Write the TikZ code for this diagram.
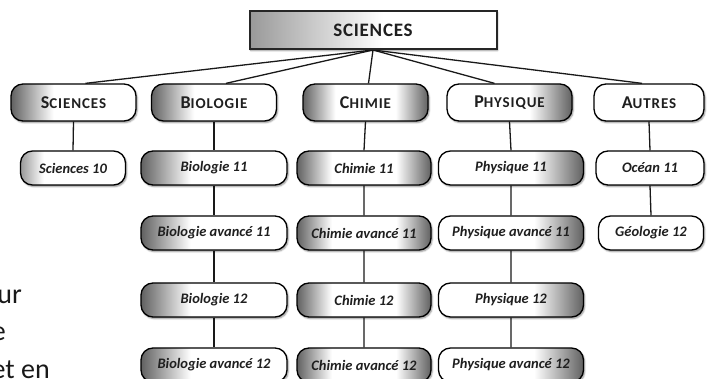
\documentclass[tikz,border=0pt]{standalone}
\usepackage{fontspec}
\setmainfont{Carlito}
\usetikzlibrary{shadows.blur,backgrounds}
\colorlet{shdark}{black!62}
\colorlet{shmid}{black!40}
\colorlet{txt}{black!88}
\pgfdeclarehorizontalshading{lshade}{100bp}{color(0bp)=(shdark); color(25bp)=(shdark); color(42bp)=(white); color(100bp)=(white)}
\pgfdeclarehorizontalshading{rshade}{100bp}{color(0bp)=(white); color(58bp)=(white); color(75bp)=(shdark); color(100bp)=(shdark)}
\pgfdeclarehorizontalshading{bshade}{100bp}{color(0bp)=(shdark); color(25bp)=(shdark); color(38bp)=(white); color(62bp)=(white); color(75bp)=(shdark); color(100bp)=(shdark)}
\pgfdeclarehorizontalshading{sshade}{100bp}{color(0bp)=(shmid); color(25bp)=(shmid); color(36bp)=(white); color(100bp)=(white)}
\pgfdeclarehorizontalshading{tshade}{100bp}{color(0bp)=(shmid); color(25bp)=(shmid); color(52bp)=(white); color(100bp)=(white)}
\newcommand{\mysc}[2]{{\fontsize{18}{18}\selectfont #1}{\fontsize{15}{15}\selectfont\addfontfeature{LetterSpace=6}#2}}
\tikzset{
  box/.style={rounded corners=12pt, draw=black, line width=1.3pt, inner sep=0pt, text=txt,
    blur shadow={shadow xshift=1.2pt, shadow yshift=-1.6pt, shadow blur radius=1.6pt, shadow opacity=45}},
  head/.style={box, minimum width=125pt, minimum height=37pt},
  course/.style={box, minimum height=34pt, font=\fontsize{14.5}{15}\selectfont\bfseries\itshape},
  conn/.style={draw=black!90, line width=1.3pt},
  frag/.style={inner sep=0pt, anchor=base east, font=\fontsize{28}{30}\selectfont, text=black!90}
}
\begin{document}
\begin{tikzpicture}[x=1pt,y=-1pt]
\useasboundingbox (0,0) rectangle (707,379);
\begin{scope}
\clip (0,0) rectangle (707,379);
\node[frag] (f1) at (22,304) {ur};
\node[frag] (f2) at (6,341) {e};
\node[frag] (f3) at (50,378) {et en};
\end{scope}
% root
\node[draw=black!85, line width=2pt, shading=tshade, minimum width=247pt, minimum height=38pt, inner sep=0pt,
  text=txt, font=\fontsize{19}{19}\selectfont\bfseries\addfontfeature{LetterSpace=4},
  blur shadow={shadow xshift=1.2pt, shadow yshift=-1.6pt, shadow blur radius=1.6pt, shadow opacity=45}]
  (root) at (373,30) {SCIENCES};
% headings
\node[head, shading=lshade] (hsci) at (73.5,102.5) {\bfseries\mysc{S}{CIENCES}};
\node[head, shading=lshade] (hbio) at (214,102.5) {\bfseries\mysc{B}{IOLOGIE}};
\node[head, shading=bshade] (hchi) at (365.5,102.5) {\bfseries\mysc{C}{HIMIE}};
\node[head, shading=rshade] (hphy) at (509.5,102.5) {\bfseries\mysc{P}{HYSIQUE}};
\node[head, fill=white, minimum width=110pt] (haut) at (649,102.5) {\bfseries\mysc{A}{UTRES}};
% courses
\node[course, shading=sshade, minimum width=105pt] (sci1) at (73,168) {Sciences 10};
\node[course, shading=lshade, minimum width=146pt] (bio1) at (214,168) {Biologie 11};
\node[course, shading=lshade, minimum width=146pt] (bio2) at (214,233) {Biologie avancé 11};
\node[course, shading=lshade, minimum width=146pt] (bio3) at (214,300) {Biologie 12};
\node[course, shading=lshade, minimum width=146pt] (bio4) at (214,365) {Biologie avancé 12};
\node[course, shading=bshade, minimum width=134pt] (chi1) at (364,168) {Chimie 11};
\node[course, shading=bshade, minimum width=134pt] (chi2) at (364,233) {Chimie avancé 11};
\node[course, shading=bshade, minimum width=134pt] (chi3) at (364,300) {Chimie 12};
\node[course, shading=bshade, minimum width=134pt] (chi4) at (364,365) {Chimie avancé 12};
\node[course, shading=rshade, minimum width=145pt] (phy1) at (511,168) {Physique 11};
\node[course, shading=rshade, minimum width=145pt] (phy2) at (511,233) {Physique avancé 11};
\node[course, shading=rshade, minimum width=145pt] (phy3) at (511,300) {Physique 12};
\node[course, shading=rshade, minimum width=145pt] (phy4) at (511,365) {Physique avancé 12};
\node[course, fill=white, minimum width=108pt] (aut1) at (650,168) {Océan 11};
\node[course, fill=white, minimum width=105pt] (aut2) at (651,233) {Géologie 12};
% connectors
\begin{scope}[on background layer]
\draw[conn] (root.south) -- ([xshift=12pt]hsci.north);
\draw[conn] (root.south) -- ([xshift=12pt]hbio.north);
\draw[conn] (root.south) -- ([xshift=3pt]hchi.north);
\draw[conn] (root.south) -- ([xshift=-15pt]hphy.north);
\draw[conn] (root.south) -- ([xshift=-7pt]haut.north);
\draw[conn] (hsci.south) -- (sci1.north);
\draw[conn] (hbio.south) -- (bio1.north) (bio1.south) -- (bio2.north) (bio2.south) -- (bio3.north) (bio3.south) -- (bio4.north);
\draw[conn] (hchi.south) -- (chi1.north) (chi1.south) -- (chi2.north) (chi2.south) -- (chi3.north) (chi3.south) -- (chi4.north);
\draw[conn] (hphy.south) -- (phy1.north) (phy1.south) -- (phy2.north) (phy2.south) -- (phy3.north) (phy3.south) -- (phy4.north);
\draw[conn] (haut.south) -- (aut1.north) (aut1.south) -- (aut2.north);
\end{scope}
\end{tikzpicture}
\end{document}
